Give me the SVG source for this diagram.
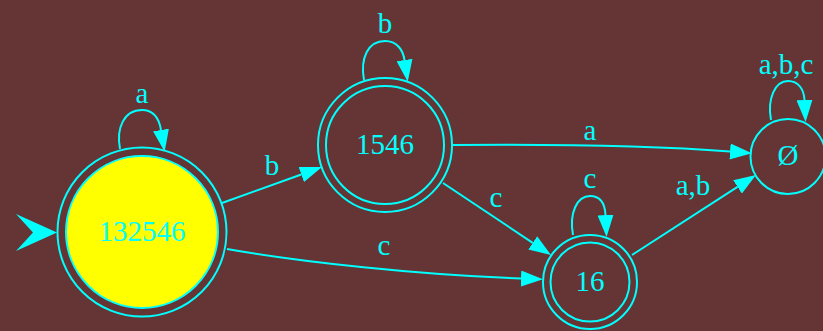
<svg xmlns="http://www.w3.org/2000/svg" width="823" height="331" viewBox="0 0 823 331">
<defs>
<marker id="arr" markerUnits="userSpaceOnUse" viewBox="0 0 22 16" refX="0" refY="8" markerWidth="22" markerHeight="16" orient="auto">
<path d="M0,0 L22,8 L0,16 z" fill="#00ffff"/>
</marker>
<style>
.n{fill:none;stroke:#00ffff;stroke-width:2}
.e{fill:none;stroke:#00ffff;stroke-width:2;marker-end:url(#arr)}
text{font-family:"Liberation Serif","Times New Roman",serif;font-size:29px;fill:#00ffff;text-anchor:middle}
</style>
</defs>
<rect width="823" height="331" fill="#643534"/>
<g id="start">
<path d="M16,214 L57,232.5 L16,251 L33,232.5 z" fill="#00ffff"/>
</g>
<g id="n132546">
<circle class="n" cx="142" cy="232" r="84.5"/>
<circle class="n" cx="142" cy="232" r="76" style="fill:#ffff00"/>
<text x="142" y="241">132546</text>
</g>
<g id="n1546">
<circle class="n" cx="385" cy="145" r="67"/>
<circle class="n" cx="385" cy="145" r="59"/>
<text x="385" y="154">1546</text>
</g>
<g id="n16">
<circle class="n" cx="590" cy="282" r="47"/>
<circle class="n" cx="590" cy="282" r="39.5"/>
<text x="590" y="291">16</text>
</g>
<g id="nempty">
<circle class="n" cx="788" cy="156.5" r="37.5"/>
<text x="788" y="165">Ø</text>
</g>
<g id="edges">
<path class="e" d="M120,149 C116,128 124,110 142,110 C154,110 159,118 161,130"/>
<text x="142" y="103">a</text>
<path class="e" d="M364,80 C360,58 368,41 385,41 C397,41 403,50 404.5,60"/>
<text x="385" y="33">b</text>
<path class="e" d="M573,235 C569,213 577,196 590,196 C601,196 605,205 605.5,215"/>
<text x="590" y="188">c</text>
<path class="e" d="M771,120 C767,99 775,81 788,81 C799,81 804,90 804.5,100"/>
<text x="786" y="74">a,b,c</text>
<path class="e" d="M222,203 L301.3,174.5"/>
<text x="272" y="175">b</text>
<path class="e" d="M227,249 C300,262 420,275 521,278.5"/>
<text x="384" y="255">c</text>
<path class="e" d="M453,145 C560,144 660,146 730,151.5"/>
<text x="590" y="140">a</text>
<path class="e" d="M443,183 L532.7,242.8"/>
<text x="496" y="207">c</text>
<path class="e" d="M632,255 L737.5,186.9"/>
<text x="693" y="195">a,b</text>
</g>
</svg>
